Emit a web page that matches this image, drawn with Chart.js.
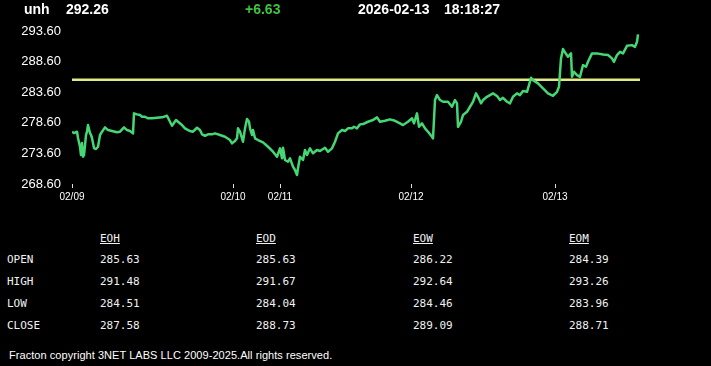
<!DOCTYPE html>
<html><head><meta charset="utf-8">
<script src="https://cdn.jsdelivr.net/npm/chart.js@4.4.1/dist/chart.umd.min.js"></script>
<style>
html,body{margin:0;padding:0;background:#000;width:711px;height:366px;overflow:hidden;}
body{position:relative;font-family:Arial,"Liberation Sans",sans-serif;color:#fff;}
.t{position:absolute;white-space:nowrap;}
.hd{font:bold 14px Arial,"Liberation Sans",sans-serif;top:1px;line-height:16px;color:#fff;}
#c{position:absolute;left:0;top:0;}
.tb{font:11px "DejaVu Sans Mono",monospace;line-height:14px;color:#f2f2f2;}
.ft{font:11px Arial,"Liberation Sans",sans-serif;line-height:14px;color:#fff;letter-spacing:0.05px;}
</style></head><body>
<canvas id="c" width="711" height="214"></canvas>
<script>
// ---- header ----
const symbol = 'unh';
const lastPrice = '292.26';
const change = '+6.63';
const quoteDate = '2026-02-13';
const quoteTime = '18:18:27';

// ---- chart data (bar index along the 5-day session, price) ----
const bars = [0,2,5,6,8,9,10,11,12,14,15,16,18,19,20,22,24,26,28,30,33,36,40,45,48,52,55,58,61,62,65,68,70,73,76,80,85,90,95,98,100,104,106,110,113,118,121,125,128,130,133,136,140,143,148,153,158,160,163,165,166,168,170,171,173,175,177,178,180,181,183,186,191,196,201,205,208,210,211,213,216,218,221,223,225,226,228,231,233,235,238,241,245,248,253,256,260,263,266,270,273,276,280,282,285,288,291,296,301,305,308,313,318,323,328,331,336,340,342,345,347,350,353,356,360,361,363,365,368,371,376,380,383,385,386,389,391,395,398,401,404,406,409,411,415,418,421,425,428,431,435,438,441,445,448,451,455,457,459,461,466,471,476,481,485,487,489,491,493,496,499,500,502,505,508,511,514,516,520,525,531,536,540,542,545,548,551,555,560,563,565,566];
const prices = [277.15,276.93,277.15,276.12,274.69,273.34,275.30,273.06,273.34,276.61,277.15,278.24,276.93,276.61,276.12,274.48,274.32,274.69,276.61,277.15,277.86,277.42,277.26,277.05,277.15,277.86,277.42,277.26,276.88,280.15,279.99,279.87,279.60,279.60,279.34,279.34,279.43,279.50,279.76,278.78,278.13,279.06,278.78,278.24,277.70,277.26,277.15,277.80,277.42,276.72,276.49,276.72,276.72,276.88,276.61,276.33,275.79,275.25,275.63,276.07,277.70,277.15,276.07,275.51,277.70,279.22,278.78,277.70,276.61,277.42,276.07,275.79,275.41,274.69,273.88,273.06,274.43,272.80,274.53,272.52,272.24,272.80,271.43,270.89,270.07,271.17,273.06,272.52,274.16,273.34,274.43,273.62,274.16,273.99,274.53,273.88,274.43,275.51,276.88,277.42,277.26,277.70,277.70,277.96,277.70,278.35,278.40,278.78,279.06,279.50,278.78,278.94,279.17,278.94,278.52,278.24,278.78,279.34,278.52,280.15,277.96,278.52,277.70,277.15,276.33,276.07,282.33,283.14,282.33,282.05,282.05,281.23,282.33,281.79,277.96,278.78,279.87,280.41,281.23,282.05,283.42,282.86,281.79,282.33,282.86,283.14,283.42,282.98,282.33,282.70,282.05,281.79,282.86,283.42,283.14,283.80,283.68,284.78,285.97,285.59,285.05,284.24,283.42,283.03,283.68,284.50,289.14,290.66,290.12,289.40,289.96,286.13,286.95,286.41,286.13,288.04,287.77,288.58,289.96,289.96,289.79,289.68,289.14,288.58,289.68,290.22,289.96,291.20,291.31,291.03,291.85,293.06];
const refPrice = 285.63;
const tickBars = [0,161,208,339,483];
const tickLabels = ['02/09','02/10','02/11','02/12','02/13'];
const yTicks = [268.6,273.6,278.6,283.6,288.6,293.6];
const xMin = 0, xMax = 568;

// ---- table ----
const colNames = ['EOH','EOD','EOW','EOM'];
const rowNames = ['OPEN','HIGH','LOW','CLOSE'];
const eoh = ['285.63','291.48','284.51','287.58'];
const eod = ['285.63','291.67','284.04','288.73'];
const eow = ['286.22','292.64','284.46','289.09'];
const eom = ['284.39','293.26','283.96','288.71'];
const footer = 'Fracton copyright 3NET LABS LLC 2009-2025.All rights reserved.';

function addText(cls, txt, left, top, extra) {
  const d = document.createElement('div');
  d.className = 't ' + cls;
  d.textContent = txt;
  d.style.left = left + 'px';
  d.style.top = top + 'px';
  if (extra) Object.assign(d.style, extra);
  document.body.appendChild(d);
  return d;
}
addText('hd', symbol, 24, 1);
addText('hd', lastPrice, 66, 1);
addText('hd', change, 245, 1, {color:'#3ec43e'});
addText('hd', quoteDate, 358, 1);
addText('hd', quoteTime, 444, 1);

const colX = [100, 256, 413, 569];
const rowY = [253, 274.5, 296.5, 318.5];
const cols = [eoh, eod, eow, eom];
colNames.forEach((n, i) => addText('tb', n, colX[i], 232, {textDecoration:'underline'}));
rowNames.forEach((n, r) => {
  addText('tb', n, 7, rowY[r]);
  cols.forEach((c, i) => addText('tb', c[r], colX[i], rowY[r]));
});
addText('ft', footer, 9, 348);

new Chart(document.getElementById('c'), {
  type: 'line',
  data: {
    datasets: [
      { data: bars.map((b, i) => ({x: b, y: prices[i]})), borderColor: '#44d774', borderWidth: 2.5,
        borderJoinStyle: 'round', pointRadius: 0, tension: 0, fill: false },
      { data: [{x: xMin, y: refPrice}, {x: xMax, y: refPrice}], borderColor: '#e2ea88', borderWidth: 2.5,
        pointRadius: 0, fill: false }
    ]
  },
  options: {
    animation: false, responsive: false, maintainAspectRatio: false, events: [],
    layout: {padding: {left: 0, right: 71, top: 25, bottom: 0}},
    plugins: {legend: {display: false}, tooltip: {enabled: false}},
    scales: {
      x: {
        type: 'linear', min: xMin, max: xMax,
        border: {display: false},
        grid: {display: true, drawOnChartArea: false, drawTicks: true, tickLength: 4, color: '#ddd', lineWidth: 1},
        afterBuildTicks: s => { s.ticks = tickBars.map(v => ({value: v})); },
        afterFit: s => { s.height = 30; },
        ticks: {color: '#fff', font: {family: 'Arial', size: 10}, padding: 3, maxRotation: 0, autoSkip: false,
          callback: v => { const i = tickBars.indexOf(v); return i >= 0 ? tickLabels[i] : ''; }}
      },
      y: {
        min: 268.6, max: 294.6,
        border: {display: false},
        grid: {display: false, drawTicks: false},
        afterBuildTicks: s => { s.ticks = yTicks.map(v => ({value: v})); },
        afterFit: s => { s.width = 72; },
        ticks: {color: '#fff', font: {family: 'Arial', size: 13}, padding: 11, callback: v => v.toFixed(2)}
      }
    }
  }
});
</script>
</body></html>
